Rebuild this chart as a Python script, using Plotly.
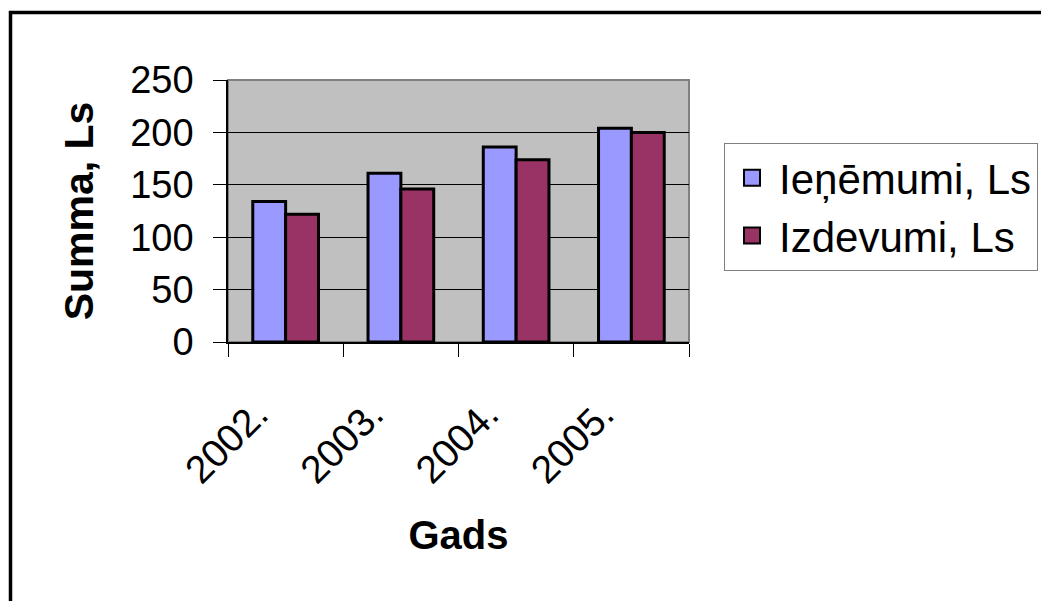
import plotly.graph_objects as go

years = ["2002.", "2003.", "2004.", "2005."]
income = [134, 161, 186, 204]
expenses = [122, 146, 174, 200]
series_names = ["Ieņēmumi, Ls", "Izdevumi, Ls"]
colors = ["#9999FF", "#993366"]
y_ticks = [0, 50, 100, 150, 200, 250]

W, H = 1041, 601
L, R, T, B = 228, 352, 80, 259
pw, ph = W - L - R, H - T - B

fig = go.Figure()
for name, vals, col in zip(series_names, [income, expenses], colors):
    fig.add_trace(go.Bar(
        x=years, y=vals, name=name, showlegend=False,
        marker=dict(color=col, line=dict(color="black", width=3)),
    ))
    fig.add_trace(go.Scatter(
        x=[None], y=[None], mode="markers", name=name,
        marker=dict(symbol="square", size=20, color=col,
                    line=dict(color="black", width=2)),
    ))

def px_x(p):
    return (p - L) / pw

def px_y(p):
    return (H - B - p) / ph

shapes = [
    dict(type="rect", xref="paper", yref="paper", x0=0, x1=1, y0=0, y1=1,
         line=dict(color="#808080", width=2), layer="between"),
    dict(type="rect", xref="paper", yref="paper",
         x0=px_x(10.5), x1=px_x(W + 10), y0=px_y(H + 10), y1=px_y(12.5),
         line=dict(color="black", width=3.5)),
]

fig.update_layout(
    width=W, height=H,
    margin=dict(l=L, r=R, t=T, b=B, autoexpand=False),
    paper_bgcolor="white", plot_bgcolor="#C0C0C0",
    font=dict(family="Liberation Sans, Arial, sans-serif", color="black"),
    barmode="group", bargap=0.43, bargroupgap=0,
    shapes=shapes,
    legend=dict(x=px_x(724), y=px_y(143), xanchor="left", yanchor="top",
                bordercolor="#808080", borderwidth=1, bgcolor="white",
                font=dict(size=42), itemsizing="trace", itemwidth=44,
                tracegroupgap=0),
    xaxis=dict(
        type="category", showline=True, linecolor="black", linewidth=1.5,
        ticks="outside", ticklen=13, tickcolor="black", tickson="boundaries",
        tickangle=-45, tickfont=dict(size=39), showgrid=False,
        ticklabelstandoff=32, ticklabelshift=-29,
        title=dict(text="<b>Gads</b>", font=dict(size=40), standoff=30),
        automargin=False,
    ),
    yaxis=dict(
        range=[0, 250], tickvals=y_ticks, showline=True, linecolor="black",
        linewidth=1.5, ticks="outside", ticklen=13, tickcolor="black",
        tickfont=dict(size=38), showgrid=True, gridcolor="black", gridwidth=1,
        zeroline=False, ticklabelstandoff=12,
        title=dict(text="<b>Summa, Ls</b>", font=dict(size=41), standoff=24),
        automargin=False,
    ),
)

fig.write_html("out.html", config={"displayModeBar": False},
               post_script="document.body.style.margin='0';document.body.style.overflow='hidden';")
